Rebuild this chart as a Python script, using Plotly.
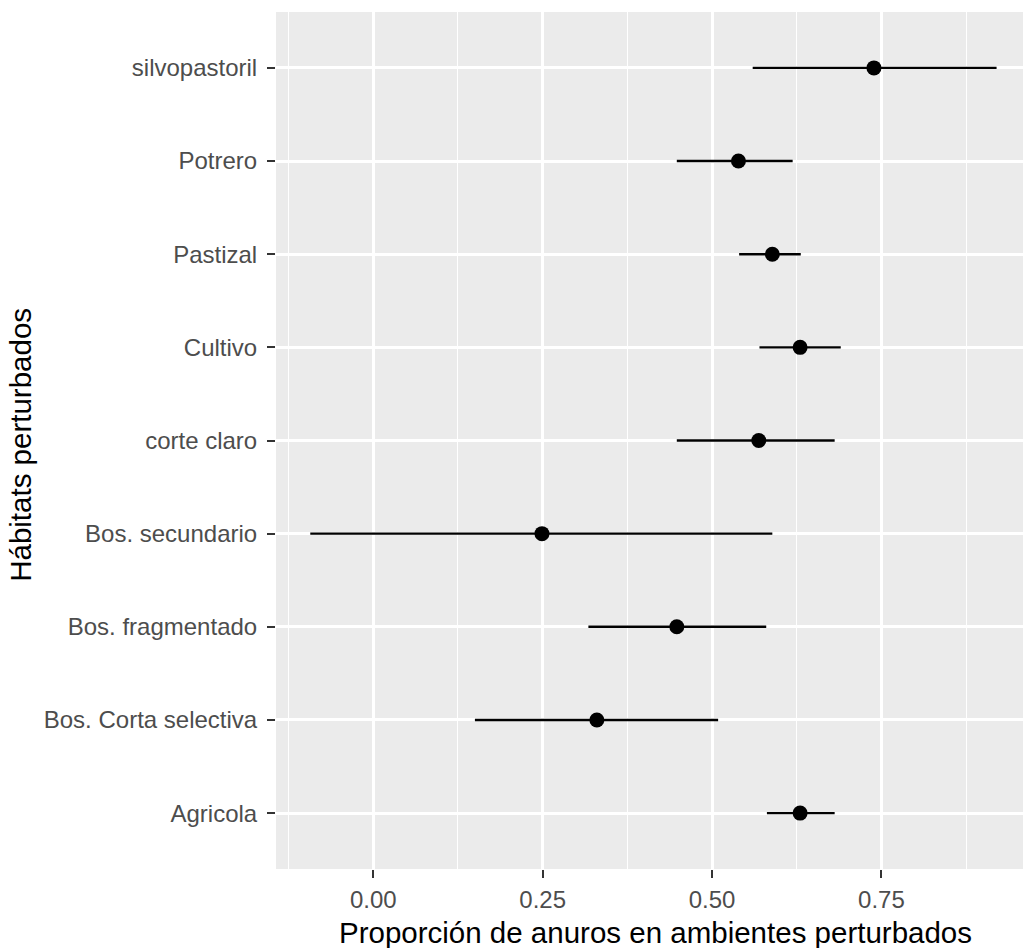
import plotly.graph_objects as go

habitats = ["Agricola", "Bos. Corta selectiva", "Bos. fragmentado", "Bos. secundario",
            "corte claro", "Cultivo", "Pastizal", "Potrero", "silvopastoril"]
proporcion = [0.630, 0.330, 0.448, 0.249, 0.569, 0.630, 0.589, 0.539, 0.739]
ic_inferior = [0.581, 0.150, 0.3175, -0.093, 0.448, 0.570, 0.540, 0.448, 0.560]
ic_superior = [0.681, 0.509, 0.580, 0.589, 0.681, 0.690, 0.631, 0.619, 0.920]

x_ticks = [0.0, 0.25, 0.50, 0.75]
x_ticktext = ["0.00", "0.25", "0.50", "0.75"]

err_plus = [u - p for u, p in zip(ic_superior, proporcion)]
err_minus = [p - l for p, l in zip(proporcion, ic_inferior)]

fig = go.Figure()
fig.add_trace(go.Scatter(
    x=proporcion, y=habitats, mode="markers",
    marker=dict(color="black", size=15, symbol="circle"),
    error_x=dict(type="data", symmetric=False, array=err_plus, arrayminus=err_minus,
                 color="black", thickness=2.4, width=0),
    showlegend=False,
))

FONT = "Liberation Sans, Arial, sans-serif"
fig.update_layout(
    width=1023, height=948,
    margin=dict(l=276, r=0, t=12, b=79),
    paper_bgcolor="white", plot_bgcolor="#EBEBEB",
    font=dict(family=FONT),
    xaxis=dict(
        range=[-0.1436, 0.959], tickvals=x_ticks, ticktext=x_ticktext,
        showgrid=True, gridcolor="white", gridwidth=2.5, zeroline=False,
        ticks="outside", ticklen=8, tickwidth=1.5, tickcolor="#333333",
        tickfont=dict(size=24, color="#4D4D4D", family=FONT),
        ticklabelstandoff=1,
        minor=dict(tick0=0.125, dtick=0.25, showgrid=True, gridcolor="white", gridwidth=1.2, ticks=""),
        showline=False,
    ),
    yaxis=dict(
        type="category", categoryorder="array", categoryarray=habitats,
        range=[-0.6, 8.6],
        showgrid=True, gridcolor="white", gridwidth=2.5, zeroline=False,
        ticks="outside", ticklen=8, tickwidth=1.5, tickcolor="#333333",
        tickfont=dict(size=24, color="#4D4D4D", family=FONT),
        ticklabelstandoff=5,
        showline=False,
    ),
    annotations=[
        dict(text="Proporción de anuros en ambientes perturbados", xref="paper", yref="paper",
             x=0.508, y=-0.052, xanchor="center", yanchor="top", showarrow=False,
             font=dict(size=29.5, color="black", family=FONT)),
        dict(text="Hábitats perturbados", xref="paper", yref="paper",
             x=-0.343, y=0.4947, xanchor="center", yanchor="middle", textangle=-90, showarrow=False,
             font=dict(size=29.5, color="black", family=FONT)),
    ],
)

fig.write_html("out.html", config={"displayModeBar": False},
               post_script="document.body.style.margin='0px';document.body.style.overflow='hidden';")
